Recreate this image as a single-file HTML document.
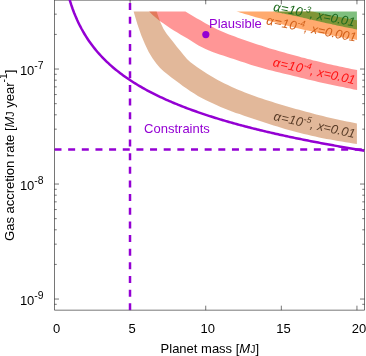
<!DOCTYPE html>
<html><head><meta charset="utf-8"><title>plot</title>
<style>html,body{margin:0;padding:0;background:#fff;width:366px;height:356px;overflow:hidden}</style>
</head><body>
<svg width="366" height="356" viewBox="0 0 366 356" style="display:block;position:absolute;left:0;top:0;will-change:transform">
<rect width="366" height="356" fill="#fff"/>
<path d="M149.1,11.5 L185.4,11.5 L188.3,13.3 L191.2,15.1 L194.1,16.8 L197.0,18.5 L200.0,20.1 L202.9,21.8 L205.8,23.4 L208.7,24.9 L211.6,26.5 L214.5,28.0 L217.4,29.4 L220.3,30.7 L223.2,32.0 L226.1,33.2 L229.1,34.4 L232.0,35.5 L234.9,36.6 L237.8,37.7 L240.7,38.8 L243.6,39.8 L246.5,40.8 L249.4,41.8 L252.3,42.8 L255.2,43.7 L258.2,44.7 L261.1,45.6 L264.0,46.6 L266.9,47.5 L269.8,48.4 L272.7,49.2 L275.6,50.1 L278.5,51.0 L281.4,51.8 L284.3,52.6 L287.3,53.4 L290.2,54.2 L293.1,55.0 L296.0,55.8 L298.9,56.6 L301.8,57.4 L304.7,58.1 L307.6,58.9 L310.5,59.6 L313.4,60.4 L316.4,61.1 L319.3,61.8 L322.2,62.5 L325.1,63.2 L328.0,63.9 L330.9,64.5 L333.8,65.2 L336.7,65.8 L339.6,66.4 L342.5,67.0 L345.5,67.7 L348.4,68.3 L351.3,68.9 L354.2,69.5 L357.1,70.1 L357.1,90.1 L353.6,89.4 L350.0,88.6 L346.5,87.9 L343.0,87.1 L339.5,86.4 L335.9,85.7 L332.4,84.9 L328.9,84.2 L325.4,83.5 L321.8,82.7 L318.3,81.9 L314.8,81.0 L311.3,80.2 L307.7,79.4 L304.2,78.5 L300.7,77.7 L297.2,76.8 L293.6,76.0 L290.1,75.1 L286.6,74.3 L283.1,73.5 L279.5,72.6 L276.0,71.7 L272.5,70.8 L269.0,69.9 L265.4,69.0 L261.9,68.0 L258.4,67.0 L254.9,66.0 L251.3,64.9 L247.8,63.7 L244.3,62.5 L240.8,61.4 L237.2,60.2 L233.7,59.0 L230.2,57.9 L226.7,56.7 L223.1,55.6 L219.6,54.4 L216.1,53.2 L212.6,51.9 L209.0,50.5 L205.5,49.0 L202.0,47.3 L198.5,45.4 L194.9,43.2 L191.4,41.0 L187.9,38.8 L184.4,36.8 L180.8,34.7 L177.3,32.6 L173.8,30.5 L170.3,28.2 L166.7,25.7 L163.2,23.3 L159.7,20.9 L156.2,18.0 L152.6,14.9 L149.1,11.5Z" fill="rgb(255,0,0)" fill-opacity="0.41"/>
<path d="M133.6,11.5 L156.6,11.5 L160.0,21.6 L163.4,28.8 L166.8,34.0 L170.2,38.3 L173.6,42.6 L177.0,46.9 L180.4,51.1 L183.8,55.3 L187.2,59.2 L190.5,62.2 L193.9,64.8 L197.3,67.2 L200.7,69.6 L204.1,71.8 L207.5,74.0 L210.9,76.0 L214.3,78.0 L217.7,79.9 L221.1,81.7 L224.5,83.4 L227.9,85.1 L231.3,86.7 L234.7,88.2 L238.1,89.7 L241.5,91.1 L244.9,92.4 L248.3,93.8 L251.7,95.0 L255.1,96.2 L258.4,97.4 L261.8,98.6 L265.2,99.7 L268.6,100.8 L272.0,101.8 L275.4,102.9 L278.8,103.9 L282.2,104.9 L285.6,105.9 L289.0,106.9 L292.4,107.9 L295.8,108.9 L299.2,109.8 L302.6,110.8 L306.0,111.7 L309.4,112.6 L312.8,113.5 L316.2,114.4 L319.6,115.2 L323.0,116.1 L326.3,116.9 L329.7,117.7 L333.1,118.5 L336.5,119.2 L339.9,120.0 L343.3,120.7 L346.7,121.4 L350.1,122.1 L353.5,122.8 L356.9,123.5 L356.9,143.9 L353.1,143.4 L349.3,142.8 L345.5,142.2 L341.8,141.6 L338.0,141.0 L334.2,140.3 L330.4,139.6 L326.6,138.9 L322.8,138.2 L319.1,137.4 L315.3,136.6 L311.5,135.7 L307.7,134.8 L303.9,133.9 L300.1,133.0 L296.3,132.0 L292.6,131.0 L288.8,130.0 L285.0,128.9 L281.2,127.8 L277.4,126.6 L273.6,125.4 L269.9,124.2 L266.1,123.0 L262.3,121.7 L258.5,120.4 L254.7,119.2 L250.9,117.9 L247.1,116.7 L243.4,115.4 L239.6,114.1 L235.8,112.9 L232.0,111.5 L228.2,110.1 L224.4,108.5 L220.6,106.9 L216.9,105.2 L213.1,103.4 L209.3,101.7 L205.5,99.9 L201.7,98.0 L197.9,95.9 L194.2,93.6 L190.4,91.2 L186.6,88.6 L182.8,85.9 L179.0,83.1 L175.2,80.3 L171.4,77.4 L167.7,74.5 L163.9,71.4 L160.1,67.9 L156.3,63.5 L152.5,58.3 L148.7,52.0 L145.0,44.3 L141.2,35.3 L137.4,24.3 L133.6,11.5Z" fill="rgb(182,78,2)" fill-opacity="0.4"/>
<path d="M236.5,11.5 L312.0,11.5 L312.8,11.7 L313.5,11.8 L314.3,12.0 L315.1,12.1 L315.8,12.3 L316.6,12.5 L317.3,12.6 L318.1,12.8 L318.9,12.9 L319.6,13.1 L320.4,13.3 L321.2,13.4 L321.9,13.6 L322.7,13.7 L323.4,13.9 L324.2,14.0 L325.0,14.2 L325.7,14.4 L326.5,14.5 L327.3,14.7 L328.0,14.8 L328.8,15.0 L329.5,15.1 L330.3,15.3 L331.1,15.4 L331.8,15.6 L332.6,15.7 L333.4,15.9 L334.1,16.0 L334.9,16.2 L335.6,16.3 L336.4,16.5 L337.2,16.6 L337.9,16.8 L338.7,16.9 L339.5,17.1 L340.2,17.2 L341.0,17.3 L341.7,17.5 L342.5,17.6 L343.3,17.8 L344.0,17.9 L344.8,18.1 L345.6,18.2 L346.3,18.4 L347.1,18.5 L347.8,18.6 L348.6,18.8 L349.4,18.9 L350.1,19.1 L350.9,19.2 L351.7,19.3 L352.4,19.5 L353.2,19.6 L353.9,19.8 L354.7,19.9 L355.5,20.0 L356.2,20.2 L357.0,20.3 L357.0,39.9 L355.0,39.6 L352.9,39.2 L350.9,38.9 L348.8,38.5 L346.8,38.2 L344.7,37.8 L342.7,37.4 L340.7,37.1 L338.6,36.7 L336.6,36.3 L334.5,35.9 L332.5,35.6 L330.4,35.2 L328.4,34.8 L326.4,34.4 L324.3,34.0 L322.3,33.6 L320.2,33.2 L318.2,32.7 L316.2,32.3 L314.1,31.9 L312.1,31.5 L310.0,31.0 L308.0,30.6 L305.9,30.2 L303.9,29.7 L301.9,29.3 L299.8,28.8 L297.8,28.3 L295.7,27.8 L293.7,27.3 L291.6,26.8 L289.6,26.3 L287.6,25.8 L285.5,25.3 L283.5,24.8 L281.4,24.2 L279.4,23.7 L277.3,23.1 L275.3,22.6 L273.3,22.0 L271.2,21.4 L269.2,20.9 L267.1,20.3 L265.1,19.8 L263.1,19.2 L261.0,18.6 L259.0,18.0 L256.9,17.5 L254.9,16.9 L252.8,16.3 L250.8,15.7 L248.8,15.1 L246.7,14.5 L244.7,13.9 L242.6,13.3 L240.6,12.7 L238.5,12.1 L236.5,11.5Z" fill="rgb(255,106,0)" fill-opacity="0.57"/>
<path d="M272.4,11.5 L356.9,11.5 L357.0,29.5 L355.6,29.2 L354.1,28.9 L352.7,28.6 L351.3,28.3 L349.8,28.1 L348.4,27.8 L347.0,27.5 L345.5,27.2 L344.1,26.9 L342.7,26.6 L341.2,26.3 L339.8,26.0 L338.4,25.7 L336.9,25.4 L335.5,25.1 L334.1,24.7 L332.6,24.4 L331.2,24.1 L329.8,23.8 L328.3,23.5 L326.9,23.2 L325.5,22.9 L324.0,22.6 L322.6,22.2 L321.2,21.9 L319.7,21.6 L318.3,21.2 L316.9,20.9 L315.4,20.6 L314.0,20.2 L312.5,19.9 L311.1,19.5 L309.7,19.2 L308.2,18.9 L306.8,18.5 L305.4,18.2 L303.9,17.9 L302.5,17.5 L301.1,17.2 L299.6,16.9 L298.2,16.6 L296.8,16.3 L295.3,16.0 L293.9,15.7 L292.5,15.4 L291.0,15.1 L289.6,14.8 L288.2,14.5 L286.7,14.2 L285.3,13.9 L283.9,13.6 L282.4,13.4 L281.0,13.1 L279.6,12.8 L278.1,12.6 L276.7,12.3 L275.3,12.0 L273.8,11.8 L272.4,11.5Z" fill="rgb(0,128,0)" fill-opacity="0.5"/>
<g stroke="#000" stroke-width="0.54" fill="none">
<path d="M54.5,-1V310.18H364.5V-1"/>
<path d="M54.5,0.25H364.5" stroke-width="0.5"/>
<path d="M54.5,304.30h2.25 M364.5,304.30h-2.25 M54.5,299.04h4.5 M364.5,299.04h-4.5 M54.5,264.42h2.25 M364.5,264.42h-2.25 M54.5,244.17h2.25 M364.5,244.17h-2.25 M54.5,229.80h2.25 M364.5,229.80h-2.25 M54.5,218.66h2.25 M364.5,218.66h-2.25 M54.5,209.55h2.25 M364.5,209.55h-2.25 M54.5,201.85h2.25 M364.5,201.85h-2.25 M54.5,195.18h2.25 M364.5,195.18h-2.25 M54.5,189.30h2.25 M364.5,189.30h-2.25 M54.5,184.04h4.5 M364.5,184.04h-4.5 M54.5,149.42h2.25 M364.5,149.42h-2.25 M54.5,129.17h2.25 M364.5,129.17h-2.25 M54.5,114.80h2.25 M364.5,114.80h-2.25 M54.5,103.66h2.25 M364.5,103.66h-2.25 M54.5,94.55h2.25 M364.5,94.55h-2.25 M54.5,86.85h2.25 M364.5,86.85h-2.25 M54.5,80.18h2.25 M364.5,80.18h-2.25 M54.5,74.30h2.25 M364.5,74.30h-2.25 M54.5,69.04h4.5 M364.5,69.04h-4.5 M54.5,34.42h2.25 M364.5,34.42h-2.25 M54.5,14.17h2.25 M364.5,14.17h-2.25 M130.11,310.18v-4.5 M130.11,-0.20v4.5 M205.72,310.18v-4.5 M205.72,-0.20v4.5 M281.33,310.18v-4.5 M281.33,-0.20v4.5 M356.94,310.18v-4.5 M356.94,-0.20v4.5"/>
</g>
<clipPath id="c"><rect x="54.5" y="0" width="310.0" height="310.18"/></clipPath>
<g clip-path="url(#c)" fill="none" stroke="#9400D3" stroke-width="2.5">
<path d="M68.11,-5.46 L69.60,-0.28 L71.09,4.42 L72.58,8.72 L74.07,12.67 L75.56,16.34 L77.05,19.75 L78.54,22.94 L80.02,25.95 L81.51,28.78 L83.00,31.46 L84.49,34.00 L85.98,36.42 L87.47,38.73 L88.96,40.94 L90.45,43.05 L91.94,45.08 L93.43,47.03 L94.92,48.90 L96.41,50.71 L97.90,52.45 L99.39,54.14 L100.88,55.77 L102.37,57.35 L103.86,58.88 L105.34,60.36 L106.83,61.81 L108.32,63.21 L109.81,64.57 L111.30,65.90 L112.79,67.19 L114.28,68.45 L115.77,69.68 L117.26,70.88 L118.75,72.05 L120.24,73.19 L121.73,74.31 L123.22,75.41 L124.71,76.48 L126.20,77.53 L127.69,78.55 L129.18,79.56 L130.66,80.55 L132.15,81.51 L133.64,82.46 L135.13,83.39 L136.62,84.31 L138.11,85.21 L139.60,86.09 L141.09,86.95 L142.58,87.81 L144.07,88.64 L145.56,89.47 L147.05,90.28 L148.54,91.07 L150.03,91.86 L151.52,92.63 L153.01,93.39 L154.49,94.14 L155.98,94.88 L157.47,95.61 L158.96,96.33 L160.45,97.03 L161.94,97.73 L163.43,98.42 L164.92,99.10 L166.41,99.77 L167.90,100.43 L169.39,101.08 L170.88,101.72 L172.37,102.36 L173.86,102.98 L175.35,103.60 L176.84,104.21 L178.33,104.82 L179.81,105.42 L181.30,106.01 L182.79,106.59 L184.28,107.17 L185.77,107.73 L187.26,108.30 L188.75,108.86 L190.24,109.41 L191.73,109.95 L193.22,110.49 L194.71,111.02 L196.20,111.55 L197.69,112.07 L199.18,112.59 L200.67,113.10 L202.16,113.61 L203.64,114.11 L205.13,114.61 L206.62,115.10 L208.11,115.58 L209.60,116.07 L211.09,116.54 L212.58,117.02 L214.07,117.48 L215.56,117.95 L217.05,118.41 L218.54,118.86 L220.03,119.32 L221.52,119.76 L223.01,120.21 L224.50,120.65 L225.99,121.08 L227.48,121.51 L228.96,121.94 L230.45,122.37 L231.94,122.79 L233.43,123.20 L234.92,123.62 L236.41,124.03 L237.90,124.44 L239.39,124.84 L240.88,125.24 L242.37,125.64 L243.86,126.03 L245.35,126.42 L246.84,126.81 L248.33,127.20 L249.82,127.58 L251.31,127.96 L252.80,128.34 L254.28,128.71 L255.77,129.08 L257.26,129.45 L258.75,129.81 L260.24,130.18 L261.73,130.54 L263.22,130.90 L264.71,131.25 L266.20,131.60 L267.69,131.95 L269.18,132.30 L270.67,132.65 L272.16,132.99 L273.65,133.33 L275.14,133.67 L276.63,134.00 L278.11,134.34 L279.60,134.67 L281.09,135.00 L282.58,135.33 L284.07,135.65 L285.56,135.97 L287.05,136.29 L288.54,136.61 L290.03,136.93 L291.52,137.25 L293.01,137.56 L294.50,137.87 L295.99,138.18 L297.48,138.49 L298.97,138.79 L300.46,139.09 L301.95,139.40 L303.43,139.69 L304.92,139.99 L306.41,140.29 L307.90,140.58 L309.39,140.88 L310.88,141.17 L312.37,141.46 L313.86,141.74 L315.35,142.03 L316.84,142.31 L318.33,142.60 L319.82,142.88 L321.31,143.16 L322.80,143.44 L324.29,143.71 L325.78,143.99 L327.27,144.26 L328.75,144.53 L330.24,144.80 L331.73,145.07 L333.22,145.34 L334.71,145.61 L336.20,145.87 L337.69,146.13 L339.18,146.40 L340.67,146.66 L342.16,146.92 L343.65,147.17 L345.14,147.43 L346.63,147.69 L348.12,147.94 L349.61,148.19 L351.10,148.44 L352.58,148.69 L354.07,148.94 L355.56,149.19 L357.05,149.44 L358.54,149.68 L360.03,149.93 L361.52,150.17 L363.01,150.41 L364.50,150.65"/>
<path d="M54.5,149.47H364.5" stroke-dasharray="7 6.65"/>
<path d="M130.01,310.28V-0.2" stroke-dasharray="7 6.65"/>
</g>
<circle cx="205.82" cy="34.62" r="3.6" fill="#9400D3"/>
<g font-family="Liberation Sans, sans-serif" font-size="13.0px" fill="#000">
<text x="209.0" y="27.8" fill="#9400D3">Plausible</text>
<text x="144.1" y="133" fill="#9400D3">Constraints</text>
<text x="56.60" y="333.1" text-anchor="middle">0</text>
<text x="132.21" y="333.1" text-anchor="middle">5</text>
<text x="207.82" y="333.1" text-anchor="middle">10</text>
<text x="283.43" y="333.1" text-anchor="middle">15</text>
<text x="359.04" y="333.1" text-anchor="middle">20</text>
<text x="43.6" y="74.74" text-anchor="end">10<tspan font-size="10.40px" dy="-5.7">-7</tspan></text>
<text x="43.6" y="189.74" text-anchor="end">10<tspan font-size="10.40px" dy="-5.7">-8</tspan></text>
<text x="43.6" y="304.74" text-anchor="end">10<tspan font-size="10.40px" dy="-5.7">-9</tspan></text>
<text x="209.8" y="352.6" text-anchor="middle">Planet mass [<tspan font-style="italic">M</tspan><tspan font-size="10.40px">J</tspan>]</text>
<text transform="translate(13.6,155.3) rotate(-90)" text-anchor="middle">Gas accretion rate [<tspan font-style="italic">M</tspan><tspan font-size="10.40px">J</tspan> year<tspan font-size="10.40px" dy="-6.3">-1</tspan><tspan dy="6.3">]</tspan></text>
<text transform="translate(354.2,26.5) rotate(11.0)" text-anchor="end" font-style="italic" font-size="12.7px" fill="#1e6a1e"><tspan letter-spacing="0.25">α=10</tspan><tspan font-size="8.64px" dy="-4.9">-3</tspan><tspan dy="4.9">, x=0.01</tspan></text>
<text transform="translate(355.4,41.7) rotate(11.0)" text-anchor="end" font-style="italic" font-size="12.7px" fill="#d2601a"><tspan letter-spacing="0.55">α=10</tspan><tspan font-size="8.64px" dy="-4.9">-4</tspan><tspan dy="4.9">, x=0.001</tspan></text>
<text transform="translate(354.2,84.4) rotate(12.7)" text-anchor="end" font-style="italic" font-size="12.7px" fill="#ff1010"><tspan letter-spacing="0.5">α=10</tspan><tspan font-size="8.64px" dy="-4.9">-4</tspan><tspan dy="4.9">, x=0.01</tspan></text>
<text transform="translate(354.2,138.0) rotate(12.5)" text-anchor="end" font-style="italic" font-size="12.7px" fill="#5a3d28"><tspan letter-spacing="0.3">α=10</tspan><tspan font-size="8.64px" dy="-4.9">-5</tspan><tspan dy="4.9">, x=0.01</tspan></text>
</g>
</svg>
</body></html>
